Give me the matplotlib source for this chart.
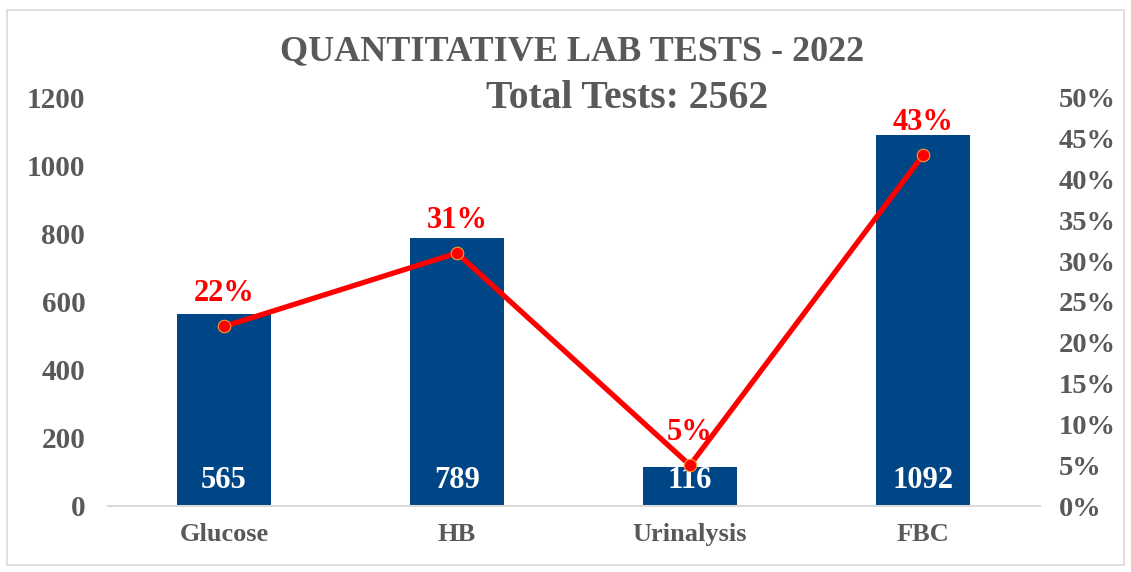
import matplotlib.pyplot as plt
from matplotlib.patches import Rectangle
from matplotlib.ticker import FuncFormatter

categories = ["Glucose", "HB", "Urinalysis", "FBC"]
counts = [565, 789, 116, 1092]
shares = [22, 31, 5, 43]
total = 2562

grey = "#595959"
blue = "#004586"
red = "#FF0000"

plt.rcParams['font.family'] = ['Liberation Serif', 'DejaVu Serif']
plt.rcParams['font.weight'] = 'bold'

fig = plt.figure(figsize=(11.31, 5.72), dpi=100)
fig.patches.append(Rectangle((7/1131, 7/572), 1117/1131, 555/572, transform=fig.transFigure,
                             fill=False, edgecolor="#D9D9D9", linewidth=1.2))

ax = fig.add_axes([107.5/1131, 66/572, 932/1131, 408/572])
x = range(len(categories))
ax.bar(x, counts, width=0.4, color=blue, zorder=2)
for i, c in enumerate(counts):
    ax.text(i, 75, str(c), color="white", fontsize=22, fontweight="bold",
            ha="center", va="center", zorder=3)

ax.set_xlim(-0.5, 3.5)
ax.set_ylim(0, 1200)
ax.set_yticks(range(0, 1201, 200))
ax.set_xticks(list(x))
ax.set_xticklabels(categories)
ax.tick_params(axis='y', length=0, pad=16, labelsize=21, labelcolor=grey)
ax.tick_params(axis='x', length=0, pad=12, labelsize=19, labelcolor=grey)
for s in ["top", "right", "left"]:
    ax.spines[s].set_visible(False)
ax.spines["bottom"].set_color("#D9D9D9")
ax.spines["bottom"].set_linewidth(1.5)

ax2 = ax.twinx()
ax2.plot(list(x), shares, color=red, linewidth=3.8, marker="o", markersize=9,
         markerfacecolor=red, markeredgecolor="#F5A030", markeredgewidth=0.8, zorder=4)
for i, p in enumerate(shares):
    ax2.annotate(f"{p}%", (i, p), xytext=(0, 13), textcoords="offset points",
                 ha="center", va="bottom", color=red, fontsize=22, fontweight="bold")
ax2.set_ylim(0, 50)
ax2.set_yticks(range(0, 51, 5))
ax2.yaxis.set_major_formatter(FuncFormatter(lambda v, _: f"{int(v)}%"))
ax2.tick_params(axis='y', length=0, pad=14, labelsize=20.5, labelcolor=grey)
for s in ax2.spines.values():
    s.set_visible(False)

fig.text(572/1131, 1 - 52/572, "QUANTITATIVE LAB TESTS - 2022", ha="center", va="center",
         fontsize=26, fontweight="bold", color=grey)
fig.text(627/1131, 1 - 98/572, f"Total Tests: {total}", ha="center", va="center",
         fontsize=28.5, fontweight="bold", color=grey)

fig.savefig("out.png", dpi=100)
